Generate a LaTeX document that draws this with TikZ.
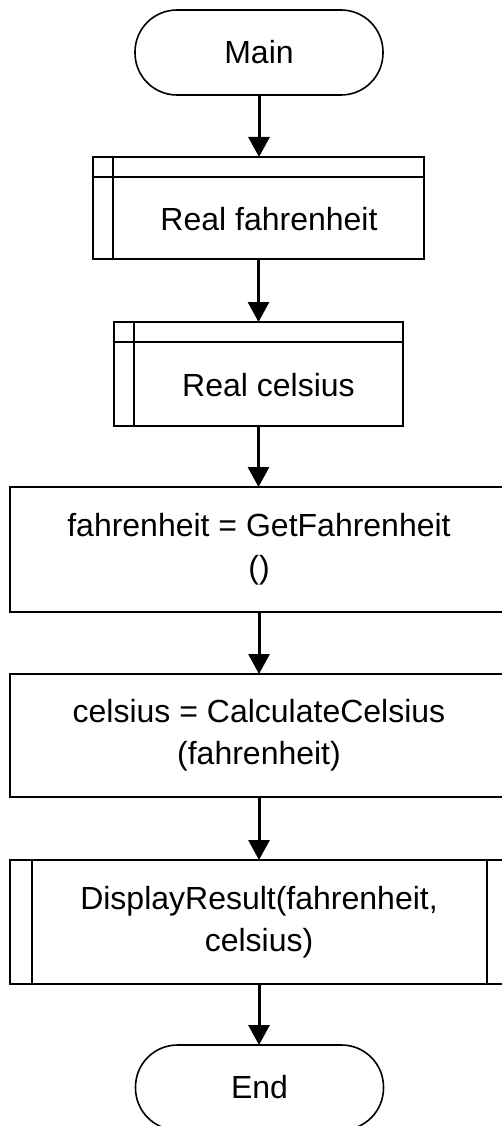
\documentclass[tikz,border=0pt]{standalone}
\usepackage{fontspec}
\setmainfont{Liberation Sans}
\usetikzlibrary{arrows.meta}
\begin{document}
\begin{tikzpicture}[x=1pt,y=-1pt,
  every node/.style={font=\fontsize{32}{42}\selectfont, inner sep=0pt, outer sep=0pt},
  term/.style={draw, line width=1.6pt, rounded corners=42pt, minimum width=248pt, minimum height=85pt},
  box/.style={draw, line width=1.6pt},
  txt/.style={align=center},
  flow/.style={line width=3pt, -{Triangle[width=21pt,length=20pt]}},
  inner/.style={line width=1.6pt}
]
\useasboundingbox[fill=white] (0,0) rectangle (502,1126);

% Main
\node[term] (main) at (259,52.5) {Main};

% Real fahrenheit
\node[box, minimum width=331pt, minimum height=102pt] (b1) at (258.5,208) {};
\draw[inner] ([xshift=20pt]b1.north west) -- ([xshift=20pt]b1.south west);
\draw[inner] ([yshift=-20pt]b1.north west) -- ([yshift=-20pt]b1.north east);
\node[txt] (b1t) at (269,219) {Real fahrenheit};

% Real celsius
\node[box, minimum width=289pt, minimum height=104pt] (b2) at (258.5,374) {};
\draw[inner] ([xshift=20pt]b2.north west) -- ([xshift=20pt]b2.south west);
\draw[inner] ([yshift=-20pt]b2.north west) -- ([yshift=-20pt]b2.north east);
\node[txt] (b2t) at (268.5,385) {Real celsius};

% fahrenheit = GetFahrenheit()
\node[box, txt, minimum width=498pt, minimum height=125pt] (b3) at (259,549.5) {fahrenheit = GetFahrenheit\\()};

% celsius = CalculateCelsius(fahrenheit)
\node[box, txt, minimum width=498pt, minimum height=123pt] (b4) at (259,735.5) {celsius = CalculateCelsius\\(fahrenheit)};

% DisplayResult
\node[box, txt, minimum width=498pt, minimum height=124pt] (b5) at (259,922) {DisplayResult(fahrenheit,\\celsius)};
\draw[inner] ([xshift=22pt]b5.north west) -- ([xshift=22pt]b5.south west);
\draw[inner] ([xshift=-21pt]b5.north east) -- ([xshift=-21pt]b5.south east);

% End
\node[term] (end) at (259.5,1087.5) {End};

% connectors
\draw[flow] (main.south) -- (main.south |- b1.north);
\draw[flow] (b1.south) -- (b1.south |- b2.north);
\draw[flow] (b2.south) -- (b2.south |- b3.north);
\draw[flow] (b3.south) -- (b4.north);
\draw[flow] (b4.south) -- (b5.north);
\draw[flow] (b5.south) -- (b5.south |- end.north);
\end{tikzpicture}
\end{document}
